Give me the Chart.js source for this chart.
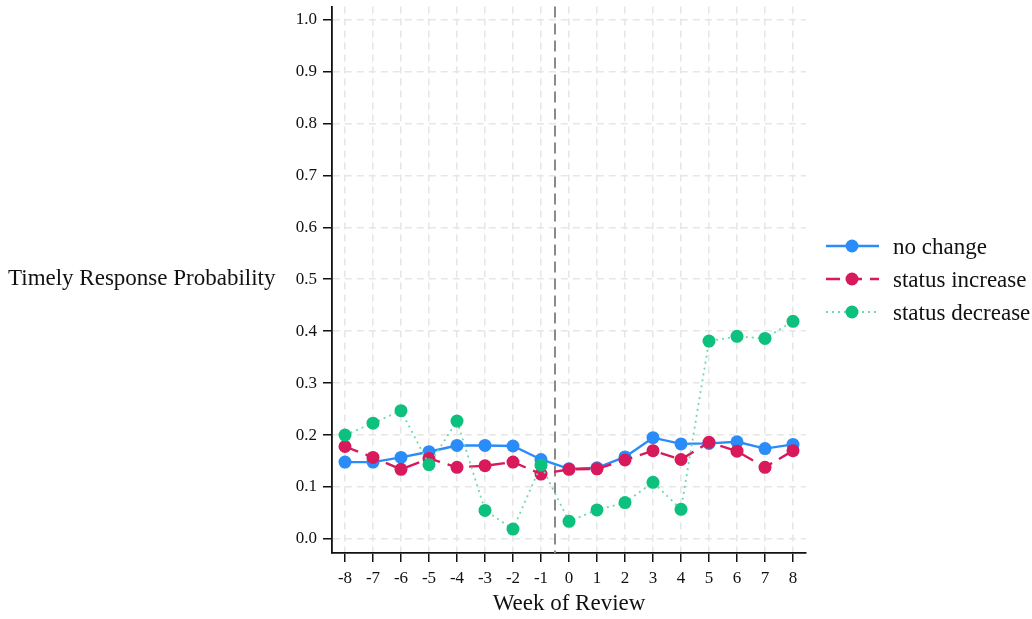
<!DOCTYPE html>
<html>
<head>
<meta charset="utf-8">
<title>Timely Response Probability by Week of Review</title>
<script src="https://cdn.jsdelivr.net/npm/chart.js@4.4.1/dist/chart.umd.min.js"></script>
<style>
    html, body { margin: 0; padding: 0; background: #fff; }
    #wrap { width: 1032px; height: 619px; }
</style>
</head>
<body>
<div id="wrap"><canvas id="chart" width="1032" height="619"></canvas></div>
<script>
// data
const weeks = [-8, -7, -6, -5, -4, -3, -2, -1, 0, 1, 2, 3, 4, 5, 6, 7, 8];
const noChange = [0.148, 0.148, 0.157, 0.168, 0.180, 0.180, 0.179, 0.153, 0.135, 0.137, 0.158, 0.195, 0.183, 0.184, 0.187, 0.174, 0.182];
const statusIncrease = [0.178, 0.157, 0.134, 0.155, 0.138, 0.141, 0.148, 0.125, 0.134, 0.135, 0.152, 0.170, 0.153, 0.186, 0.169, 0.138, 0.170];
const statusDecrease = [0.200, 0.223, 0.247, 0.143, 0.227, 0.055, 0.019, 0.142, 0.034, 0.056, 0.070, 0.109, 0.057, 0.381, 0.390, 0.386, 0.419];
const yTicks = [0.0, 0.1, 0.2, 0.3, 0.4, 0.5, 0.6, 0.7, 0.8, 0.9, 1.0];
const cutoffWeek = -0.5;

const seriesNames = ['no change', 'status increase', 'status decrease'];
const seriesColors = ['#2a8cf8', '#d8195c', '#0cc07d'];
const lineColors = ['#2a8cf8', '#d8195c', '#6fd8ae'];
const lineDashes = [[], [14, 8], [2, 4]];
const lineWidths = [2.4, 2.4, 1.8];

const FONT = '"Liberation Serif", "Times New Roman", serif';

// helper: pair weeks with the values of one series
function toPoints(values) {
    return weeks.map((w, i) => ({ x: w, y: values[i] }));
}

function makeDataset(i, values, order) {
    return {
        label: seriesNames[i],
        data: toPoints(values),
        borderColor: lineColors[i],
        borderWidth: lineWidths[i],
        borderDash: lineDashes[i],
        pointRadius: 6.5,
        pointHoverRadius: 6.5,
        pointBackgroundColor: seriesColors[i],
        pointBorderWidth: 0,
        tension: 0,
        fill: false,
        order: order
    };
}

// draws the horizontal y title, the cutoff line and the legend
const extras = {
    id: 'extras',
    beforeDatasetsDraw(chart) {
        const { ctx, chartArea, scales } = chart;
        const x = scales.x.getPixelForValue(cutoffWeek);
        ctx.save();
        ctx.strokeStyle = '#8a8a8a';
        ctx.lineWidth = 2;
        ctx.setLineDash([11, 6]);
        ctx.beginPath();
        ctx.moveTo(x, chartArea.top);
        ctx.lineTo(x, chartArea.bottom);
        ctx.stroke();
        ctx.restore();
    },
    afterDraw(chart) {
        const { ctx } = chart;
        ctx.save();
        ctx.fillStyle = '#111';
        ctx.font = '23px ' + FONT;
        ctx.textAlign = 'left';
        ctx.textBaseline = 'middle';
        ctx.fillText('Timely Response Probability', 8, 279);

        const rowsY = [246, 279, 312];
        seriesNames.forEach((name, i) => {
            const y = rowsY[i];
            ctx.strokeStyle = lineColors[i];
            ctx.lineWidth = lineWidths[i];
            ctx.setLineDash(lineDashes[i]);
            ctx.beginPath();
            ctx.moveTo(826, y);
            ctx.lineTo(879, y);
            ctx.stroke();
            ctx.setLineDash([]);
            ctx.fillStyle = seriesColors[i];
            ctx.beginPath();
            ctx.arc(852, y, 6.5, 0, Math.PI * 2);
            ctx.fill();
            ctx.fillStyle = '#111';
            ctx.fillText(name, 893, y + 2);
        });
        ctx.restore();
    }
};

const gridStyle = {
    color: '#e6e6e6',
    lineWidth: 1.5,
    drawTicks: true,
    tickLength: 9,
    tickColor: '#111',
    tickWidth: 1.5
};

new Chart(document.getElementById('chart'), {
    type: 'line',
    data: {
        datasets: [
            makeDataset(0, noChange, 3),
            makeDataset(1, statusIncrease, 2),
            makeDataset(2, statusDecrease, 1)
        ]
    },
    options: {
        responsive: false,
        animation: false,
        devicePixelRatio: 1,
        layout: { padding: { left: 280, right: 226, top: 5, bottom: 0 } },
        plugins: {
            legend: { display: false },
            tooltip: { enabled: false }
        },
        scales: {
            x: {
                type: 'linear',
                min: -8.464,
                max: 8.464,
                afterBuildTicks: scale => { scale.ticks = weeks.map(v => ({ value: v })); },
                afterFit: scale => {
                    scale.height = 66;
                    scale.paddingLeft = 0;
                    scale.paddingRight = 0;
                },
                grid: gridStyle,
                border: { display: true, color: '#111', width: 1.8, dash: [7, 5] },
                ticks: {
                    color: '#111',
                    font: { family: FONT, size: 17 },
                    padding: 6,
                    maxRotation: 0,
                    autoSkip: false,
                    callback: v => String(v)
                },
                title: {
                    display: true,
                    text: 'Week of Review',
                    color: '#111',
                    font: { family: FONT, size: 23 },
                    padding: { top: 0, bottom: 1 }
                }
            },
            y: {
                min: -0.027,
                max: 1.025,
                afterBuildTicks: scale => { scale.ticks = yTicks.map(v => ({ value: v })); },
                afterFit: scale => {
                    scale.width = 52;
                    scale.paddingTop = 0;
                    scale.paddingBottom = 0;
                },
                grid: gridStyle,
                border: { display: true, color: '#111', width: 1.8, dash: [7, 5] },
                ticks: {
                    color: '#111',
                    font: { family: FONT, size: 17 },
                    padding: 6,
                    autoSkip: false,
                    callback: v => v.toFixed(1)
                }
            }
        }
    },
    plugins: [extras]
});
</script>
</body>
</html>
